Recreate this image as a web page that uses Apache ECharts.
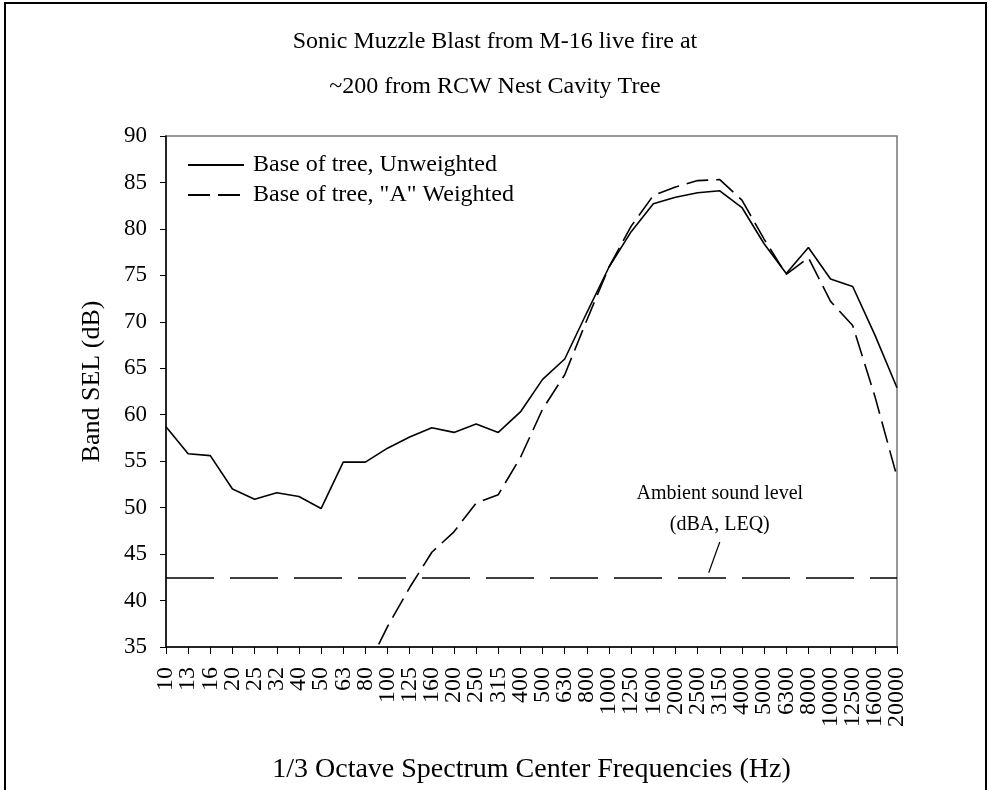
<!DOCTYPE html>
<html>
<head>
<meta charset="utf-8">
<script src="https://cdn.jsdelivr.net/npm/echarts@6/dist/echarts.min.js"></script>
<style>
  html, body { margin: 0; padding: 0; background: #fff; }
  #chart { width: 990px; height: 790px; }
</style>
</head>
<body>
<div id="chart"></div>
<script>
// 1/3 octave bands
const frequencies = ['10', '13', '16', '20', '25', '32', '40', '50', '63', '80',
  '100', '125', '160', '200', '250', '315', '400', '500', '630', '800',
  '1000', '1250', '1600', '2000', '2500', '3150', '4000', '5000', '6300', '8000',
  '10000', '12500', '16000', '20000'];

// Base of tree, unweighted (dB)
const unweighted = [58.7, 55.8, 55.6, 52.0, 50.9, 51.6, 51.2, 49.9, 54.9, 54.9,
  56.4, 57.6, 58.6, 58.1, 59.0, 58.1, 60.3, 63.8, 66.0, 71.0,
  75.9, 79.7, 82.7, 83.4, 83.9, 84.1, 82.3, 78.4, 75.2, 78.0,
  74.6, 73.8, 68.6, 62.9];

// Base of tree, "A" weighted (dB) - low bands fall below the axis
const aWeighted = [null, null, null, null, null, null, null, null, null, 32.4,
  37.2, 41.4, 45.2, 47.4, 50.5, 51.4, 55.4, 60.6, 64.3, 70.2,
  75.9, 80.3, 83.6, 84.5, 85.2, 85.3, 83.1, 78.9, 75.1, 76.9,
  72.2, 69.6, 62.0, 53.3];

const ambientLevel = 42.5;
const annotLines = ['Ambient sound level', '(dBA, LEQ)'];
const annotAt = [25, 49.8];        // [band index, dB] centre of the note
const pointerFrom = [25, 46.3];
const pointerTo = [24.5, 43.0];

const FONT = '"Liberation Serif", "DejaVu Serif", serif';

const chart = echarts.init(document.getElementById('chart'));

const option = {
  backgroundColor: '#fff',
  animation: false,
  title: {
    text: 'Sonic Muzzle Blast from M-16 live fire at\n~200 from RCW Nest Cavity Tree',
    left: 'center',
    top: 14,
    textStyle: {
      fontFamily: FONT,
      fontWeight: 'normal',
      fontSize: 24,
      lineHeight: 45,
      color: '#000'
    }
  },
  legend: {
    orient: 'vertical',
    left: 182,
    top: 148,
    itemWidth: 56,
    itemHeight: 14,
    itemGap: 6,
    itemStyle: { opacity: 0 },
    textStyle: {
      fontFamily: FONT,
      fontSize: 24,
      lineHeight: 24,
      color: '#000',
      padding: [0, 0, 0, 4]
    },
    data: ['Base of tree, Unweighted', 'Base of tree, "A" Weighted']
  },
  grid: {
    left: 166,
    right: 93,
    top: 136,
    bottom: 143,
    outerBoundsMode: 'none',
    show: true,
    borderColor: '#777',
    borderWidth: 1.5
  },
  xAxis: {
    type: 'category',
    data: frequencies,
    boundaryGap: false,
    name: '1/3 Octave Spectrum Center Frequencies (Hz)',
    nameLocation: 'middle',
    nameGap: 109,
    nameTextStyle: { fontFamily: FONT, fontSize: 28, color: '#000' },
    axisLine: { lineStyle: { color: '#000', width: 1.5 } },
    axisTick: { alignWithLabel: true, interval: 0, length: 7, lineStyle: { color: '#000' } },
    axisLabel: {
      interval: 0,
      rotate: 90,
      margin: 20,
      fontFamily: FONT,
      fontSize: 24,
      color: '#000'
    },
    splitLine: { show: false }
  },
  yAxis: {
    type: 'value',
    min: 35,
    max: 90,
    interval: 5,
    axisLine: { show: true, lineStyle: { color: '#000', width: 1.5 } },
    axisTick: { show: true, length: 6, lineStyle: { color: '#000' } },
    axisLabel: { margin: 19, fontFamily: FONT, fontSize: 23, color: '#000' },
    splitLine: { show: false }
  },
  series: [
    {
      name: 'Base of tree, Unweighted',
      type: 'line',
      data: unweighted,
      symbol: 'none',
      lineStyle: { color: '#000', width: 1.6 },
      itemStyle: { color: '#000' }
    },
    {
      name: 'Base of tree, "A" Weighted',
      type: 'line',
      data: aWeighted,
      symbol: 'none',
      connectNulls: false,
      lineStyle: { color: '#000', width: 1.6, type: [22, 8] },
      itemStyle: { color: '#000' },
      markLine: {
        silent: true,
        symbol: ['none', 'none'],
        label: { show: false },
        lineStyle: { color: '#000', width: 1.6, type: [48, 16] },
        data: [{ yAxis: ambientLevel }]
      }
    }
  ]
};

chart.setOption(option);

// category axis snaps to whole bands, so interpolate between neighbours
function toPixel(pt) {
  const i0 = Math.floor(pt[0]);
  const f = pt[0] - i0;
  const a = chart.convertToPixel({ gridIndex: 0 }, [i0, pt[1]]);
  const b = chart.convertToPixel({ gridIndex: 0 }, [Math.min(i0 + 1, frequencies.length - 1), pt[1]]);
  return [a[0] + (b[0] - a[0]) * f, a[1]];
}

const notePos = toPixel(annotAt);
const p1 = toPixel(pointerFrom);
const p2 = toPixel(pointerTo);
const plotTop = chart.convertToPixel({ gridIndex: 0 }, [0, 90])[1];
const plotBottom = chart.convertToPixel({ gridIndex: 0 }, [0, 35])[1];

chart.setOption({
  graphic: [
    {
      type: 'rect',
      shape: { x: 5, y: 3, width: 981, height: 800 },
      style: { fill: 'none', stroke: '#000', lineWidth: 2 },
      silent: true
    },
    {
      type: 'text',
      x: 92,
      y: (plotTop + plotBottom) / 2 - 10,
      rotation: Math.PI / 2,
      style: {
        text: 'Band SEL (dB)',
        font: '26px ' + FONT,
        fill: '#000',
        align: 'center',
        verticalAlign: 'middle'
      }
    },
    {
      type: 'text',
      x: notePos[0],
      y: notePos[1],
      style: {
        text: annotLines.join('\n'),
        font: '20px ' + FONT,
        fill: '#000',
        align: 'center',
        verticalAlign: 'middle',
        lineHeight: 31
      }
    },
    {
      type: 'line',
      shape: { x1: p1[0], y1: p1[1], x2: p2[0], y2: p2[1] },
      style: { stroke: '#000', lineWidth: 1.2 }
    }
  ]
});
</script>
</body>
</html>
